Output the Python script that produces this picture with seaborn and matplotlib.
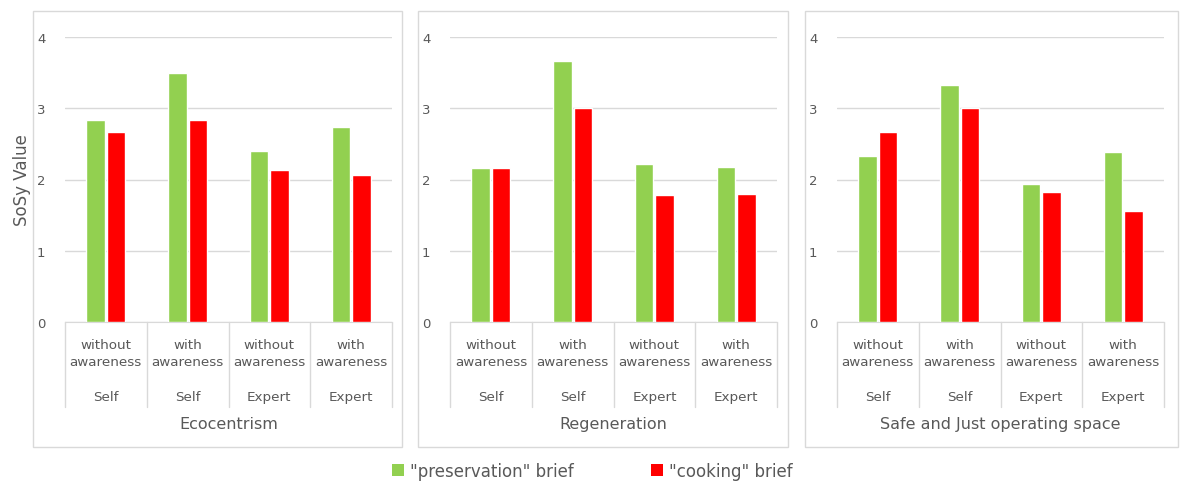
import matplotlib
matplotlib.use("Agg")
import matplotlib.pyplot as plt
import pandas as pd
import seaborn as sns
from matplotlib.patches import Patch, Rectangle

# Data
panels = ["Ecocentrism", "Regeneration", "Safe and Just operating space"]
awareness = ["without\nawareness", "with\nawareness", "without\nawareness", "with\nawareness"]
rater = ["Self", "Self", "Expert", "Expert"]
briefs = ['"preservation" brief', '"cooking" brief']

eco_preservation = [2.83, 3.49, 2.40, 2.73]
eco_cooking = [2.67, 2.84, 2.13, 2.06]
regen_preservation = [2.16, 3.67, 2.22, 2.17]
regen_cooking = [2.16, 3.00, 1.78, 1.79]
safe_preservation = [2.33, 3.32, 1.94, 2.39]
safe_cooking = [2.67, 3.01, 1.83, 1.56]

values = {
    "Ecocentrism": (eco_preservation, eco_cooking),
    "Regeneration": (regen_preservation, regen_cooking),
    "Safe and Just operating space": (safe_preservation, safe_cooking),
}

group_keys = [f"{a.replace(chr(10), ' ')} | {r} | {i}" for i, (a, r) in enumerate(zip(awareness, rater))]

rows = []
for panel in panels:
    for brief, series in zip(briefs, values[panel]):
        for key, v in zip(group_keys, series):
            rows.append({"panel": panel, "group": key, "brief": brief, "value": v})
df = pd.DataFrame(rows)

green = "#92D050"
red = "#FF0000"
text_col = "#595959"
line_col = "#D9D9D9"

sns.set_style("white")
plt.rcParams["font.family"] = ["DejaVu Sans"]

W, H = 1185, 485
fig = plt.figure(figsize=(W / 100, H / 100), dpi=100)

# panel frames (pixel boxes)
frames = [(33, 402), (418, 788), (805, 1178)]
for x0, x1 in frames:
    fig.add_artist(Rectangle((x0 / W, 1 - 448 / H), (x1 - x0) / W, (448 - 12) / H,
                             transform=fig.transFigure, fill=False,
                             edgecolor=line_col, linewidth=1))

axes_left = [65, 450, 837]
ax_w = 327
ax_top, ax_bot = 38, 323
sep_bottom = -(408 - ax_bot) / (ax_bot - ax_top)

for i, panel in enumerate(panels):
    ax = fig.add_axes([axes_left[i] / W, 1 - ax_bot / H, ax_w / W, (ax_bot - ax_top) / H])
    sub = df[df["panel"] == panel]
    sns.barplot(data=sub, x="group", y="value", hue="brief", order=group_keys,
                hue_order=briefs, palette=[green, red], width=0.5, gap=0.1,
                saturation=1, legend=False, ax=ax, zorder=3)
    ax.set_ylim(0, 4)
    ax.set_xlim(-0.5, 3.5)
    ax.set_yticks([0, 1, 2, 3, 4])
    ax.set_yticklabels(["0", "1", "2", "3", "4"], color=text_col, fontsize=9.5)
    ax.tick_params(axis="y", length=0, pad=14)
    ax.tick_params(axis="x", length=0)
    ax.set_xticklabels([])
    ax.set_xlabel("")
    ax.set_ylabel("")
    ax.grid(axis="y", color=line_col, linewidth=1, zorder=0)
    for s in ["top", "right", "left"]:
        ax.spines[s].set_visible(False)
    ax.spines["bottom"].set_color(line_col)

    trans = ax.get_xaxis_transform()
    for j in range(len(group_keys)):
        ax.text(j, -0.055, awareness[j], transform=trans, ha="center", va="top",
                fontsize=9.7, color=text_col, linespacing=1.45)
        ax.text(j, -0.24, rater[j], transform=trans, ha="center", va="top",
                fontsize=9.7, color=text_col)
    for xb in [-0.5, 0.5, 1.5, 2.5, 3.5]:
        ax.plot([xb, xb], [0, sep_bottom], transform=trans, color=line_col,
                linewidth=1, clip_on=False)
    ax.text(1.5, -0.33, panel, transform=trans, ha="center", va="top",
            fontsize=11.5, color=text_col)
    if i == 0:
        ax.set_ylabel("SoSy Value", color=text_col, fontsize=12, labelpad=4)

handles = [Patch(facecolor=green, edgecolor="none"), Patch(facecolor=red, edgecolor="none")]
fig.legend(handles, briefs, loc="center", bbox_to_anchor=(0.5, 1 - 472 / H), ncol=2,
           frameon=False, fontsize=12, labelcolor=text_col, handlelength=0.7,
           handleheight=0.7, handletextpad=0.4, columnspacing=4.6)

fig.savefig("out.png", dpi=100, facecolor="white")
